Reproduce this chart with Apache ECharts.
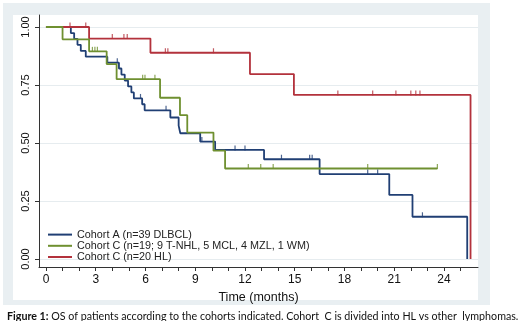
<!DOCTYPE html>
<html>
<head>
<meta charset="utf-8">
<script src="https://cdn.jsdelivr.net/npm/echarts@6/dist/echarts.min.js"></script>
<style>
  html, body { margin: 0; padding: 0; background: #fff; }
  #chart { width: 520px; height: 321px; }
</style>
</head>
<body>
<div id="chart"></div>
<script>
// Kaplan-Meier steps: time (months) and survival after each drop
const blueT = [0, 1.5, 1.7, 1.9, 2.1, 2.4, 3.7, 4.4, 4.55, 4.75, 4.95, 5.15, 5.3, 5.8, 5.95, 7.5, 8.0, 8.1, 9.3, 10.2, 13.15, 16.5, 20.7, 22.1, 25.4];
const blueS = [1, 0.974, 0.949, 0.923, 0.897, 0.872, 0.846, 0.821, 0.795, 0.769, 0.744, 0.718, 0.692, 0.667, 0.641, 0.61, 0.575, 0.542, 0.506, 0.47, 0.43, 0.366, 0.276, 0.182, 0];
const greenT = [0, 1.0, 2.6, 3.66, 4.26, 6.88, 8.08, 8.52, 10.1, 10.8, 23.6];
const greenS = [1, 0.947, 0.895, 0.84, 0.775, 0.695, 0.62, 0.545, 0.467, 0.39, 0.39];
const redT = [0, 2.6, 6.3, 12.3, 14.95, 25.6];
const redS = [1, 0.95, 0.889, 0.797, 0.707, 0];

// censored observations [time, survival]
const blueCens = [[4.3, 0.846], [5.7, 0.692], [7.24, 0.641], [9.4, 0.506], [11.4, 0.47], [12.0, 0.47], [14.2, 0.43], [15.9, 0.43], [16.05, 0.43], [19.4, 0.366], [20.0, 0.366], [22.7, 0.182]];
const greenCens = [[2.8, 0.895], [2.95, 0.895], [3.1, 0.895], [5.83, 0.775], [5.97, 0.775], [6.57, 0.775], [12.2, 0.39], [12.95, 0.39], [13.7, 0.39], [19.4, 0.39], [23.6, 0.39]];
const redCens = [[1.45, 1], [2.4, 1], [4.0, 0.95], [4.7, 0.95], [4.9, 0.95], [7.2, 0.889], [7.35, 0.889], [10.1, 0.889], [17.6, 0.707], [19.7, 0.707], [21.1, 0.707], [22.0, 0.707], [22.3, 0.707], [22.55, 0.707]];

const names = ['Cohort A (n=39 DLBCL)', 'Cohort C (n=19; 9 T-NHL, 5 MCL, 4 MZL, 1 WM)', 'Cohort C (n=20 HL)'];
const xTicks = [0, 1, 2, 3, 4, 5, 6, 7, 8, 9, 10, 11, 12, 13, 14, 15, 16, 17, 18, 19, 20, 21, 22, 23, 24, 25];
const xLabels = [0, 3, 6, 9, 12, 15, 18, 21, 24];
const yLabels = [0, 0.25, 0.5, 0.75, 1];

const BLUE = '#203f74';
const GREEN = '#6f9030';
const RED = '#b3323c';

let myChart = echarts.init(document.getElementById('chart'));

function zip(t, s) {
  return t.map((v, i) => [v, s[i]]);
}
function km(name, t, s, color) {
  return {
    name: name,
    type: 'line',
    step: 'end',
    showSymbol: false,
    data: zip(t, s),
    lineStyle: { color: color, width: 1.8 },
    itemStyle: { color: color },
    animation: false,
  };
}
function cens(pts, color) {
  return {
    type: 'scatter',
    symbol: 'rect',
    symbolSize: [1.2, 5],
    symbolOffset: [0, -2],
    data: pts,
    itemStyle: { color: color },
    z: 3,
    animation: false,
  };
}

let option = {
  backgroundColor: '#fff',
  textStyle: { fontFamily: 'Liberation Sans' },
  graphic: [
    { type: 'rect', shape: { x: 3, y: 3, width: 487, height: 302 }, style: { fill: '#e9eff2' }, z: -2 },
    { type: 'rect', shape: { x: 13, y: 15, width: 465, height: 285 }, style: { fill: '#fff' }, z: -1 },
  ],
  title: {
    left: 2,
    top: 306,
    text: '{b|Figure 1:} OS of patients according to the cohorts indicated. Cohort  C is divided into HL vs other  lymphomas.',
    textStyle: {
      fontFamily: 'Lato',
      fontSize: 10.7,
      fontWeight: 'normal',
      color: '#111',
      rich: { b: { fontFamily: 'Lato', fontSize: 10.7, fontWeight: 'bold', color: '#111' } },
    },
  },
  legend: {
    orient: 'vertical',
    left: 48,
    top: 229,
    itemWidth: 24,
    itemHeight: 2,
    itemGap: 0,
    icon: 'rect',
    data: names,
    textStyle: { fontFamily: 'Liberation Sans', fontSize: 10.8, color: '#222', lineHeight: 11.2, padding: 0 },
    padding: 0,
  },
  grid: [
    { left: 39, right: 42, top: 15, bottom: 54, outerBoundsMode: 'none' },
    { left: 39, right: 42, top: 27, bottom: 62, outerBoundsMode: 'none' },
  ],
  xAxis: [
    {
      type: 'value',
      min: -0.42,
      max: 26.05,
      name: 'Time (months)',
      nameLocation: 'middle',
      nameGap: 20,
      nameTextStyle: { fontSize: 12.5, color: '#111' },
      axisLine: { show: true, onZero: false, lineStyle: { color: '#333', width: 1 } },
      axisTick: { show: true, customValues: xTicks, length: 4, lineStyle: { color: '#333' } },
      axisLabel: { customValues: xLabels, fontSize: 12, color: '#111', margin: 7 },
      splitLine: { show: false },
    },
    { gridIndex: 1, type: 'value', min: 0, max: 1, show: false },
  ],
  yAxis: [
    {
      type: 'value',
      min: -0.0345,
      max: 1.0517,
      axisLine: { show: true, onZero: false, lineStyle: { color: '#333', width: 1 } },
      axisTick: { show: true, customValues: yLabels, length: 4, lineStyle: { color: '#333' } },
      axisLabel: {
        customValues: yLabels,
        rotate: 90,
        fontSize: 11,
        color: '#111',
        margin: 8,
        formatter: (v) => v.toFixed(2),
      },
      splitLine: { show: false },
    },
    {
      gridIndex: 1,
      type: 'value',
      min: 0,
      max: 1,
      interval: 0.25,
      axisLine: { show: false },
      axisTick: { show: false },
      axisLabel: { show: false },
      splitLine: { show: true, lineStyle: { color: '#e6ecef', width: 1 } },
    },
  ],
  series: [
    km(names[0], blueT, blueS, BLUE),
    km(names[2], redT, redS, RED),
    km(names[1], greenT, greenS, GREEN),
    cens(blueCens, BLUE),
    cens(redCens, RED),
    cens(greenCens, GREEN),
  ],
};
myChart.setOption(option);
</script>
</body>
</html>
